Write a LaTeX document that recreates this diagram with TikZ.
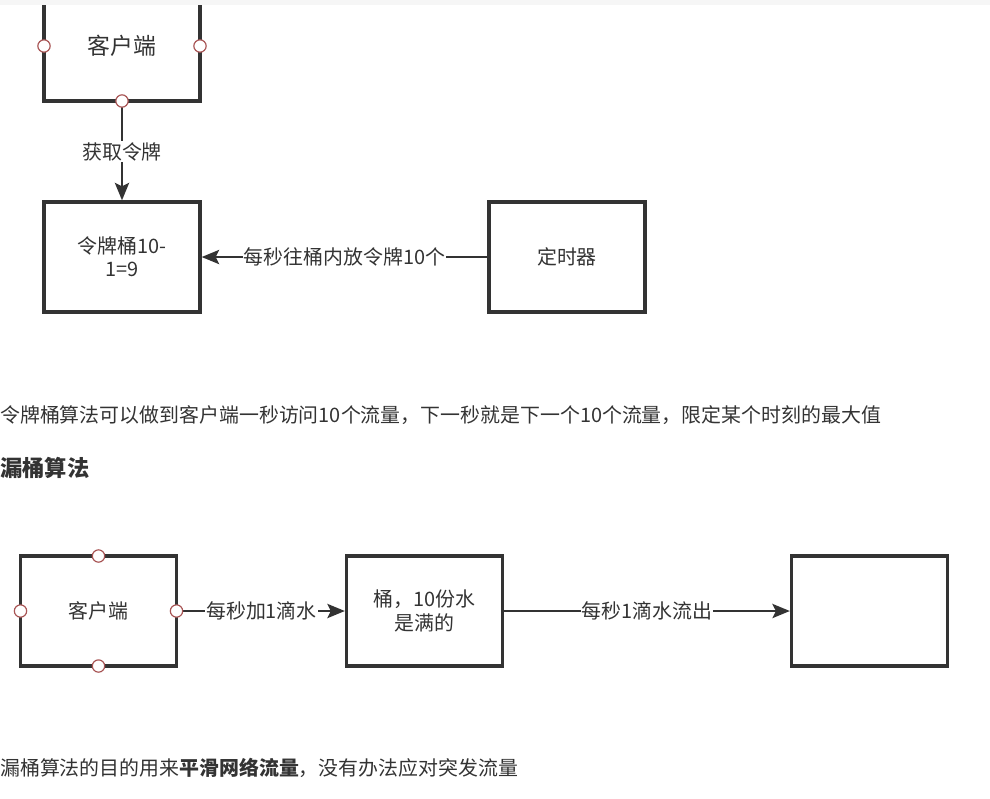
\documentclass[tikz,border=0pt]{standalone}
\usepackage{fontspec}
\setmainfont{Noto Sans CJK SC}
\usepackage{xcolor}
\usepackage{tikz}
\usetikzlibrary{arrows.meta, positioning}
\definecolor{ink}{HTML}{333333}
\definecolor{portred}{HTML}{A85454}
\definecolor{topbar}{HTML}{F6F6F6}

\begin{document}
\begin{tikzpicture}[
    x=0.03cm, y=-0.03cm,
    every node/.style={font=\fontsize{17pt}{19.5pt}\selectfont, text=ink},
    box/.style={rectangle, draw=ink, line width=2.8pt, minimum width=4.68cm, minimum height=3.3cm, align=center, fill=white, outer sep=0pt},
    portdot/.style={circle, draw=portred, fill=white, line width=1pt, minimum size=0.37cm, inner sep=0pt},
    arr/.style={-{Stealth[length=0.52cm, width=0.42cm, inset=0.1cm]}, draw=ink, line width=2.5pt, shorten >=1.4pt},
    lbl/.style={fill=white, inner sep=1pt},
    para/.style={anchor=west, inner sep=0pt}
]
    \clip (0,0) rectangle (990,798);

    % token bucket
    \node (client) [box, font=\fontsize{19.5pt}{23pt}\selectfont] at (122,46) {客户端};
    \node (tokens) [box, below=3.03cm of client] {令牌桶10-\\1=9};
    \node (timer) [box, right=8.67cm of tokens] {定时器};

    \draw[arr] (client) -- node[lbl] {获取令牌} (tokens);
    \draw[arr] (timer) -- node[lbl] {每秒往桶内放令牌10个} (tokens);

    \foreach \a in {west, east, south}
        \node (client-\a) [portdot] at (client.\a) {};

    \fill[topbar] (0,0) rectangle (990,5);

    \node (tbtext) [para] at (0,415) {令牌桶算法可以做到客户端一秒访问10个流量，下一秒就是下一个10个流量，限定某个时刻的最大值};
    \node (lbhead) [para, font=\fontsize{19pt}{22pt}\selectfont\bfseries] at (0,468) {漏桶算法};

    % leaky bucket
    \node (lclient) [box] at (98.5,611) {客户端};
    \node (bucket) [box, font=\fontsize{17pt}{20.5pt}\selectfont, right=5.1cm of lclient] {桶，10份水\\是满的};
    \node (sink) [box, right=8.67cm of bucket] {};

    \draw[arr] (lclient) -- node[lbl] {每秒加1滴水} (bucket);
    \draw[arr] (bucket) -- node[lbl] {每秒1滴水流出} (sink);

    \foreach \a in {north, west, east, south}
        \node (lclient-\a) [portdot] at (lclient.\a) {};

    \node (lbtext) [para] at (0,768) {漏桶算法的目的用来\textbf{平滑网络流量}，没有办法应对突发流量};
\end{tikzpicture}
\end{document}
